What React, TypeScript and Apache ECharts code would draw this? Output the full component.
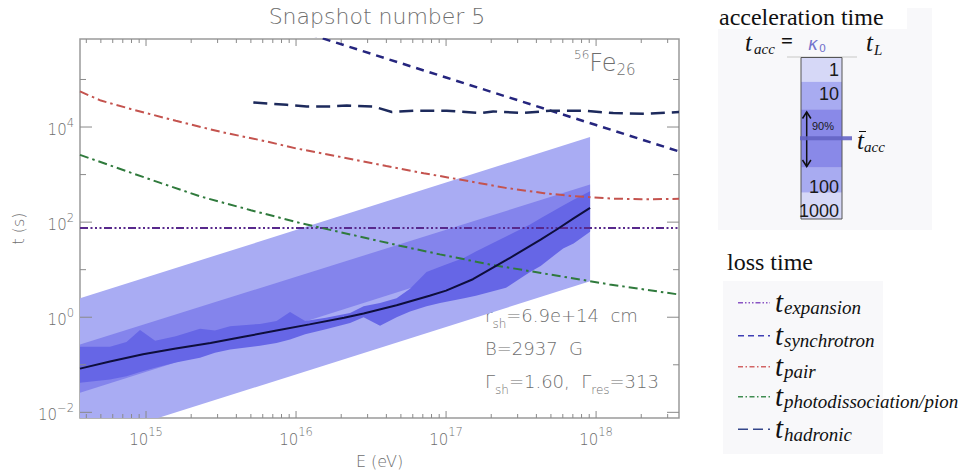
import React, { useEffect, useRef } from 'react';
import * as echarts from 'echarts';

// ---------- axis extents & ticks ----------
const X_MIN = 3.63e14;
const X_MAX = 3.57e18;
const Y_MIN = 7.6e-3;
const Y_MAX = 7.1e5;

const xMajorTicks = [1e15, 1e16, 1e17, 1e18];
const xMinorTicks = [
  4e14, 5e14, 6e14, 7e14, 8e14, 9e14,
  2e15, 3e15, 4e15, 5e15, 6e15, 7e15, 8e15, 9e15,
  2e16, 3e16, 4e16, 5e16, 6e16, 7e16, 8e16, 9e16,
  2e17, 3e17, 4e17, 5e17, 6e17, 7e17, 8e17, 9e17,
  2e18, 3e18,
];
const yMajorTicks = [1e-2, 1, 1e2, 1e4];
const yMinorTicks = [1e-1, 1e1, 1e3, 1e5];

// ---------- loss-time curves (E in eV, t in s) ----------
const expansionE = [3.63e14, 3.57e18];
const expansionT = [75, 75];

const synchrotronE = [1e16, 1e17, 1e18, 3.57e18];
const synchrotronT = [1.1e6, 1.1e5, 1.1e4, 3.07e3];

const pairE = [3.63e14, 5.0e14, 7.9e14, 1.58e15, 3.16e15, 6.3e15, 1e16, 2e16, 4e16, 7.1e16, 1.26e17, 2.5e17, 4.5e17, 7.1e17, 1.26e18, 2e18, 3.57e18];
const pairT = [5.6e4, 3.6e4, 2.4e4, 1.35e4, 7.9e3, 5.0e3, 3.55e3, 2.34e3, 1.51e3, 1.07e3, 776, 525, 407, 351, 313, 302, 309];

const photoE = [3.63e14, 7.9e14, 1.26e15, 2.3e15, 5e15, 1.07e16, 2.3e16, 4.9e16, 9.1e16, 1.95e17, 4.3e17, 9.1e17, 1.23e18, 3.57e18];
const photoT = [2.6e3, 1.1e3, 660, 347, 178, 95.5, 55, 32, 21, 12.9, 8.5, 5.75, 4.9, 3.0];

const hadronicE = [5.19e15, 8.67e15, 1.18e16, 1.69e16, 2.18e16, 3.27e16, 4.35e16, 6.05e16, 1.01e17, 1.69e17, 2.06e17, 3.26e17, 4.93e17, 8.18e17, 1.3e18, 2.19e18, 3.57e18];
const hadronicT = [3.29e4, 2.94e4, 2.71e4, 2.71e4, 2.84e4, 2.71e4, 2.07e4, 2.2e4, 2.2e4, 1.97e4, 2.13e4, 1.97e4, 2.2e4, 2.2e4, 1.97e4, 1.9e4, 2.07e4];

// ---------- acceleration time ----------
const medianE = [3.63e14, 5.75e14, 9.55e14, 1.58e15, 2.69e15, 4.47e15, 7.41e15, 1.23e16, 2.09e16, 2.82e16, 4.68e16, 7.76e16, 1e17, 1.51e17, 2.51e17, 4.27e17, 5.5e17, 7.08e17, 9.12e17];
const medianT = [0.083, 0.117, 0.166, 0.219, 0.288, 0.389, 0.525, 0.708, 0.977, 1.2, 1.78, 2.82, 3.63, 6.3, 15.8, 42.7, 70.8, 120, 200];

const bandE = [3.63e14, 9.12e17];
const lightLow = [2.3e-3, 5.7];
const lightHigh = [2.5, 6170];
const mediumLow = [0.0257, 64.6];
const mediumHigh = [0.267, 617];

const darkE = [3.63e14, 5.75e14, 7.41e14, 9.12e14, 1.15e15, 1.58e15, 2.29e15, 2.88e15, 3.63e15, 5.75e15, 7.41e15, 9.12e15, 1.15e16, 1.58e16, 2.29e16, 2.82e16, 3.63e16, 4.68e16, 5.75e16, 7.41e16, 9.12e16, 1.32e17, 1.58e17, 2.51e17, 3.63e17, 4.27e17, 6.03e17, 7.08e17, 9.12e17];
const darkHigh = [0.24, 0.24, 0.3, 0.54, 0.32, 0.4, 0.575, 0.525, 0.646, 0.724, 0.832, 1.29, 0.832, 0.977, 1.23, 1.7, 2.0, 2.51, 3.98, 8.9, 11.5, 17.8, 24, 50, 89, 120, 224, 295, 447];
const darkLow = [0.0417, 0.049, 0.0575, 0.0708, 0.087, 0.112, 0.141, 0.178, 0.209, 0.251, 0.288, 0.339, 0.437, 0.562, 0.759, 1.0, 0.66, 1.0, 1.32, 1.7, 2.0, 2.51, 2.82, 4.17, 8.9, 12, 28, 35.5, 63];

// ---------- legend content ----------
const kappaLabels = ['1', '10', '100', '1000'];
const lossNames = ['expansion', 'synchrotron', 'pair', 'photodissociation/pion', 'hadronic'];

const FONT = '"DejaVu Sans", sans-serif';
const SERIF = '"Liberation Serif", "DejaVu Serif", serif';
const GRAY = '#6e6e6e';

const COL_EXP = '#58298c';
const COL_SYN = '#25257e';
const COL_PAIR = '#c4534e';
const COL_PHOTO = '#2f7a3c';
const COL_HAD = '#1d2a5c';

function tickLabel(v: number, evenOnly: boolean) {
  const e = Math.log10(v);
  const r = Math.round(e);
  if (Math.abs(e - r) > 1e-6) return '';
  if (evenOnly && r % 2 !== 0) return '';
  const s = r < 0 ? '\u2212' + (-r) : String(r);
  return `{b|10}{s|${s}}`;
}

const labelRich = {
  b: { fontSize: 15, fontFamily: FONT, fontWeight: 200, color: GRAY, lineHeight: 21, verticalAlign: 'bottom' },
  s: { fontSize: 11.5, fontFamily: FONT, fontWeight: 200, color: GRAY, lineHeight: 13, verticalAlign: 'top' },
};

function zip(a: number[], b: number[]) {
  return a.map((v, i) => [v, b[i]]);
}

function lineSeries(name: string, E: number[], T: number[], color: string, width: number, dash: any, z = 5) {
  return {
    type: 'line',
    name,
    data: zip(E, T),
    symbol: 'none',
    showSymbol: false,
    silent: true,
    clip: true,
    z,
    lineStyle: { color, width, type: dash },
  };
}

function bandSeries(E: number[], lo: number[], hi: number[], color: string, z: number) {
  return {
    type: 'custom',
    coordinateSystem: 'cartesian2d',
    clip: true,
    silent: true,
    z,
    data: [[E[0], hi[0]]],
    renderItem: (params: any, api: any) => {
      const pts: number[][] = [];
      for (let i = 0; i < E.length; i++) pts.push(api.coord([E[i], hi[i]]));
      for (let i = E.length - 1; i >= 0; i--) pts.push(api.coord([E[i], lo[i]]));
      return { type: 'polygon', shape: { points: pts }, style: { fill: color } };
    },
  };
}

function tickSeries() {
  const data = [
    ...xMajorTicks.map((v) => [v, 1, 0, 7]),
    ...xMinorTicks.map((v) => [v, 1, 0, 4]),
    ...yMajorTicks.map((v) => [1e16, v, 1, 12]),
    ...yMinorTicks.map((v) => [1e16, v, 1, 6]),
  ];
  return {
    type: 'custom',
    coordinateSystem: 'cartesian2d',
    silent: true,
    clip: false,
    z: 20,
    dimensions: ['x', 'y', 'kind', 'len'],
    encode: { x: 0, y: 1 },
    data,
    renderItem: (params: any, api: any) => {
      const cs = params.coordSys;
      const kind = api.value(2);
      const len = api.value(3);
      const style = { stroke: '#8a8a8a', lineWidth: 1 };
      if (kind === 0) {
        const px = api.coord([api.value(0), 1])[0];
        const yb = cs.y + cs.height;
        return {
          type: 'group',
          children: [
            { type: 'line', shape: { x1: px, y1: yb, x2: px, y2: yb - len }, style },
            { type: 'line', shape: { x1: px, y1: cs.y, x2: px, y2: cs.y + len }, style },
          ],
        };
      }
      const py = api.coord([1e16, api.value(1)])[1];
      const xr = cs.x + cs.width;
      return {
        type: 'group',
        children: [
          { type: 'line', shape: { x1: cs.x, y1: py, x2: cs.x + len, y2: py }, style },
          { type: 'line', shape: { x1: xr, y1: py, x2: xr - len, y2: py }, style },
        ],
      };
    },
  };
}

function txt(x: number, y: number, text: string, font: string, fill = '#111', align = 'left', extra: any = {}) {
  return { type: 'text', x, y, silent: true, style: { text, font, fill, align, verticalAlign: 'middle', ...extra } };
}

function buildGraphics() {
  const g: any[] = [];
  // title
  g.push(txt(377, 16, 'Snapshot number 5', `200 22px ${FONT}`, GRAY, 'center'));
  // 56Fe26
  g.push({
    type: 'text', x: 574, y: 63, silent: true,
    style: {
      text: '{s|56}{b|Fe}{d|26}', verticalAlign: 'middle', align: 'left',
      rich: {
        s: { fontSize: 12, fontFamily: FONT, fontWeight: 200, fill: GRAY, color: GRAY, lineHeight: 12, verticalAlign: 'top' },
        b: { fontSize: 24, fontFamily: FONT, fontWeight: 200, fill: GRAY, color: GRAY, lineHeight: 28, verticalAlign: 'middle' },
        d: { fontSize: 15, fontFamily: FONT, fontWeight: 200, fill: GRAY, color: GRAY, lineHeight: 15, verticalAlign: 'bottom' },
      },
    },
  });
  // parameter annotations
  const annRich = {
    m: { fontSize: 18, fontFamily: FONT, fontWeight: 200, fill: GRAY, color: GRAY, lineHeight: 24, verticalAlign: 'top' },
    u: { fontSize: 12, fontFamily: FONT, fontWeight: 200, fill: GRAY, color: GRAY, lineHeight: 12, verticalAlign: 'bottom' },
  };
  const ann = [
    { y: 318, t: '{m|r}{u|sh}{m|=6.9e+14  cm}' },
    { y: 351, t: '{m|B=2937  G}' },
    { y: 384, t: '{m|\u0393}{u|sh}{m|=1.60,  \u0393}{u|res}{m|=313}' },
  ];
  ann.forEach((a) =>
    g.push({ type: 'text', x: 485, y: a.y, silent: true, style: { text: a.t, rich: annRich, verticalAlign: 'middle', align: 'left' } })
  );

  // ---- acceleration panel ----
  g.push({ type: 'rect', silent: true, shape: { x: 718, y: 8, width: 214, height: 222 }, style: { fill: '#f8f8fa' } });
  g.push({ type: 'rect', silent: true, shape: { x: 710, y: 5, width: 197, height: 24 }, style: { fill: '#ffffff' } });
  g.push(txt(719, 17, 'acceleration time', `24px ${SERIF}`, '#111'));
  g.push(txt(745, 42, 't', `italic 25px ${SERIF}`));
  g.push(txt(754, 49, 'acc', `italic 15px ${SERIF}`));
  g.push(txt(781, 41, '=', `bold 21px ${SERIF}`));
  g.push(txt(808, 44, '\u03ba', `italic 17px ${FONT}`, '#7474cc'));
  g.push(txt(819, 48, '0', `11px ${FONT}`, '#7474cc'));
  g.push(txt(866, 42, 't', `italic 25px ${SERIF}`));
  g.push(txt(874, 50, 'L', `italic 15px ${SERIF}`));
  g.push({ type: 'line', silent: true, shape: { x1: 787, y1: 57, x2: 857, y2: 57 }, style: { stroke: '#e0e0e0', lineWidth: 2 } });

  const segs = [
    { y0: 57.5, y1: 81.7, c: '#d6d8f7' },
    { y0: 81.7, y1: 109.3, c: '#a8abf1' },
    { y0: 109.3, y1: 167.7, c: '#8989e8' },
    { y0: 167.7, y1: 192.7, c: '#a8abf1' },
    { y0: 192.7, y1: 219, c: '#d6d8f7' },
  ];
  segs.forEach((s) =>
    g.push({ type: 'rect', silent: true, shape: { x: 801, y: s.y0, width: 41, height: s.y1 - s.y0 }, style: { fill: s.c } })
  );
  g.push({ type: 'rect', silent: true, shape: { x: 801, y: 57.5, width: 41, height: 161.5 }, style: { fill: 'none', stroke: '#555', lineWidth: 1 } });
  const kY = [70, 94, 187, 210.5];
  kappaLabels.forEach((k, i) => g.push(txt(839, kY[i], k, `18px "Liberation Sans", Arial, sans-serif`, '#1a1a1a', 'right')));
  g.push(txt(812, 126, '90%', `11px "Liberation Sans", Arial, sans-serif`, '#1a1a1a'));
  g.push({ type: 'line', silent: true, shape: { x1: 806.7, y1: 112, x2: 806.7, y2: 166.5 }, style: { stroke: '#111', lineWidth: 1.5 } });
  g.push({ type: 'polyline', silent: true, shape: { points: [[802.5, 118.5], [806.7, 112], [810.9, 118.5]] }, style: { stroke: '#111', lineWidth: 1.5, fill: 'none' } });
  g.push({ type: 'polyline', silent: true, shape: { points: [[802.5, 160], [806.7, 166.5], [810.9, 160]] }, style: { stroke: '#111', lineWidth: 1.5, fill: 'none' } });
  g.push({ type: 'rect', silent: true, shape: { x: 800, y: 136.3, width: 52, height: 4 }, style: { fill: '#6464c4', opacity: 0.9 } });
  g.push(txt(857, 140, 't', `italic 25px ${SERIF}`));
  g.push({ type: 'line', silent: true, shape: { x1: 859, y1: 131.5, x2: 866, y2: 131.5 }, style: { stroke: '#111', lineWidth: 1 } });
  g.push(txt(864, 147, 'acc', `italic 15px ${SERIF}`));

  // ---- loss panel ----
  g.push({ type: 'rect', silent: true, shape: { x: 723, y: 281, width: 160, height: 173 }, style: { fill: '#f8f8fa' } });
  g.push({ type: 'rect', silent: true, shape: { x: 722, y: 251, width: 165, height: 22 }, style: { fill: '#ffffff' } });
  g.push(txt(727, 262, 'loss time', `24px ${SERIF}`, '#111'));
  const itemY = [302.7, 335.7, 366.7, 396.7, 429.3];
  const itemCol = ['#8a55c4', '#4040b4', '#d26464', '#3f8c50', '#34468a'];
  const itemDash = [[5, 2, 1.5, 2, 1.5, 2, 1.5, 2], [6, 4], [5, 2.5, 1.5, 2.5], [5, 2.5, 1.5, 2.5], [10, 5]];
  lossNames.forEach((n, i) => {
    const y = itemY[i];
    g.push({ type: 'line', silent: true, shape: { x1: 738, y1: y, x2: 770, y2: y }, style: { stroke: itemCol[i], lineWidth: 1.5, lineDash: itemDash[i] } });
    g.push(txt(775, y - 1, 't', `italic 29px ${SERIF}`));
    g.push(txt(784, y + 5, n, `italic 19px ${SERIF}`));
  });
  return g;
}

export default function App() {
  const ref = useRef<HTMLDivElement>(null);
  useEffect(() => {
    if (!ref.current) return;
    const chart = echarts.init(ref.current, undefined, { renderer: 'svg' });
    const option: any = {
      animation: false,
      backgroundColor: '#ffffff',
      grid: { left: 80, top: 39, width: 599, height: 379, show: true, borderColor: '#9a9a9a', borderWidth: 1.5, backgroundColor: 'transparent' },
      xAxis: {
        type: 'log', logBase: 10, min: X_MIN, max: X_MAX,
        name: 'E (eV)', nameLocation: 'middle', nameGap: 35,
        nameTextStyle: { color: GRAY, fontSize: 16, fontFamily: FONT, fontWeight: 200 },
        axisLine: { show: false }, axisTick: { show: false }, splitLine: { show: false }, minorTick: { show: false },
        axisLabel: { formatter: (v: number) => tickLabel(v, false), margin: 8, rich: labelRich, showMinLabel: false, showMaxLabel: false },
      },
      yAxis: {
        type: 'log', logBase: 10, min: Y_MIN, max: Y_MAX,
        name: 't (s)', nameLocation: 'middle', nameGap: 54,
        nameTextStyle: { color: GRAY, fontSize: 16, fontFamily: FONT, fontWeight: 200 },
        axisLine: { show: false }, axisTick: { show: false }, splitLine: { show: false }, minorTick: { show: false },
        axisLabel: { formatter: (v: number) => tickLabel(v, true), margin: 6, rich: labelRich, showMinLabel: false, showMaxLabel: false },
      },
      series: [
        bandSeries(bandE, lightLow, lightHigh, '#a9acf3', 1),
        bandSeries(bandE, mediumLow, mediumHigh, '#8484ec', 2),
        bandSeries(darkE, darkLow, darkHigh, '#6666e6', 3),
        lineSeries('median', medianE, medianT, '#0e0e3c', 2, 'solid', 6),
        lineSeries('expansion', expansionE, expansionT, COL_EXP, 2, [8, 2.5, 2, 2.5, 2, 2.5, 2, 2.5]),
        lineSeries('synchrotron', synchrotronE, synchrotronT, COL_SYN, 2.5, [8, 6]),
        lineSeries('pair', pairE, pairT, COL_PAIR, 2, [9, 4, 2.5, 4]),
        lineSeries('photo', photoE, photoT, COL_PHOTO, 2, [9, 4, 2.5, 4]),
        lineSeries('hadronic', hadronicE, hadronicT, COL_HAD, 2.5, [14, 7]),
        tickSeries(),
      ],
      graphic: { elements: buildGraphics() },
    };
    chart.setOption(option);
    return () => chart.dispose();
  }, []);
  return <div ref={ref} style={{ position: 'absolute', left: 0, top: 0, width: 969, height: 475 }} />;
}
